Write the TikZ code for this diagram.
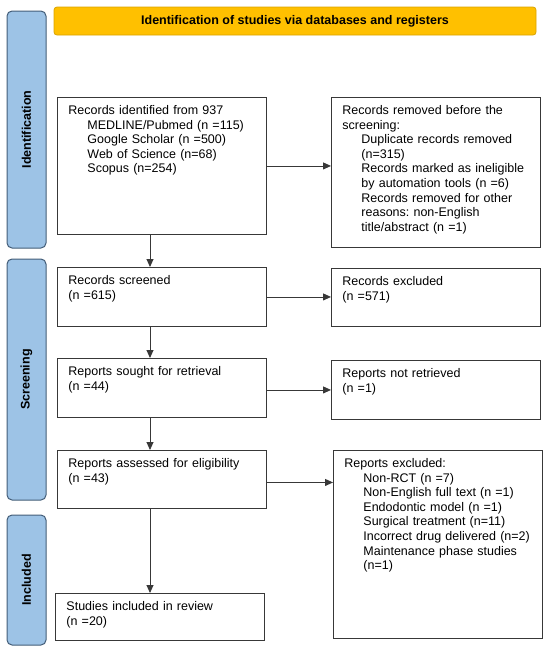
\documentclass[tikz,border=0pt]{standalone}
\usepackage{fontspec}
\setmainfont{Liberation Sans}
\usetikzlibrary{arrows.meta}
\definecolor{bannerc}{HTML}{FFC000}
\definecolor{bannerd}{HTML}{D9A300}
\definecolor{phasec}{HTML}{9DC3E6}
\definecolor{phased}{HTML}{435D78}
\colorlet{linec}{black!78}
\newcommand{\inset}{\hspace*{19pt}}
\newcommand{\chartfont}{\fontsize{12.5}{14.6}\selectfont\frenchspacing}
\tikzstyle{record} = [
  draw=linec,
  line width=0.9pt,
  anchor=north west,
  text width=187pt,
  inner xsep=11pt,
  inner ysep=8pt,
  text height=9pt,
  align=left,
]
\tikzstyle{phase} = [
  draw=phased,
  fill=phasec,
  line width=1pt,
  rounded corners=5pt,
  rotate=90,
  minimum height=39pt,
  font=\chartfont\bfseries,
]
\tikzstyle{arr} = [
  draw=linec,
  line width=0.9pt,
  -{Triangle[length=8pt,width=7pt]},
]

\begin{document}
\begin{tikzpicture}[x=1pt,y=-1pt,font=\chartfont]
      \useasboundingbox (0,0) rectangle (550,654);
      \coordinate (spine) at (150,0);

      % Banner
      \node[draw=bannerd, fill=bannerc, line width=0.8pt, rounded corners=3pt,
        minimum width=482pt, minimum height=28pt, font=\chartfont\bfseries]
        (banner) at (295,21) {Identification of studies via databases and registers};

      % Phases
      \node[phase, minimum width=237pt] (idbar) at (26.5,129.5) {Identification};
      \node[phase, minimum width=241pt] (scbar) at (26.5,379.5) {Screening};
      \node[phase, minimum width=130pt] (inbar) at (26.5,580) {Included};

      % Main column
      \node[record, text depth=112pt] (ident) at (57,97) {Records identified from 937\\
        \inset MEDLINE/Pubmed (n =115)\\
        \inset Google Scholar (n =500)\\
        \inset Web of Science (n=68)\\
        \inset Scopus (n=254)};
      \node[record, text depth=34pt] (screened) at (57,267) {Records screened\\(n =615)};
      \node[record, text depth=34pt] (sought) at (57,358) {Reports sought for retrieval\\(n =44)};
      \node[record, text depth=33pt] (assessed) at (57,450) {Reports assessed for eligibility\\(n =43)};
      \node[record, text depth=22pt] (included) at (55,593) {Studies included in review\\(n =20)};

      % Side column
      \node[record, text depth=125pt] (removed) at (331,97) {Records removed before the\\
        screening:\\
        \inset Duplicate records removed\\
        \inset (n=315)\\
        \inset Records marked as ineligible\\
        \inset by automation tools (n =6)\\
        \inset Records removed for other\\
        \inset reasons: non-English\\
        \inset title/abstract (n =1)};
      \node[record, text depth=33pt] (excluded) at (331,268) {Records excluded\\(n =571)};
      \node[record, text depth=34pt] (notretr) at (331,360) {Reports not retrieved\\(n =1)};
      \node[record, text depth=163pt] (rptexcl) at (333,450) {Reports excluded:\\
        \inset Non-RCT (n =7)\\
        \inset Non-English full text (n =1)\\
        \inset Endodontic model (n =1)\\
        \inset Surgical treatment (n=11)\\
        \inset Incorrect drug delivered (n=2)\\
        \inset Maintenance phase studies\\
        \inset (n=1)};

      % Arrows down
      \draw[arr] (ident.south -| spine) -- (screened.north -| spine);
      \draw[arr] (screened.south -| spine) -- (sought.north -| spine);
      \draw[arr] (sought.south -| spine) -- (assessed.north -| spine);
      \draw[arr] (assessed.south -| spine) -- (included.north -| spine);

      % Arrows across
      \draw[arr] (ident.east) -- (ident.east -| removed.west);
      \draw[arr] (screened.east) -- (screened.east -| excluded.west);
      \draw[arr] (notretr.west -| sought.east) -- (notretr.west);
      \draw[arr] ([yshift=-3pt]assessed.east) -- ([yshift=-3pt]assessed.east -| rptexcl.west);
    \end{tikzpicture}
\end{document}
